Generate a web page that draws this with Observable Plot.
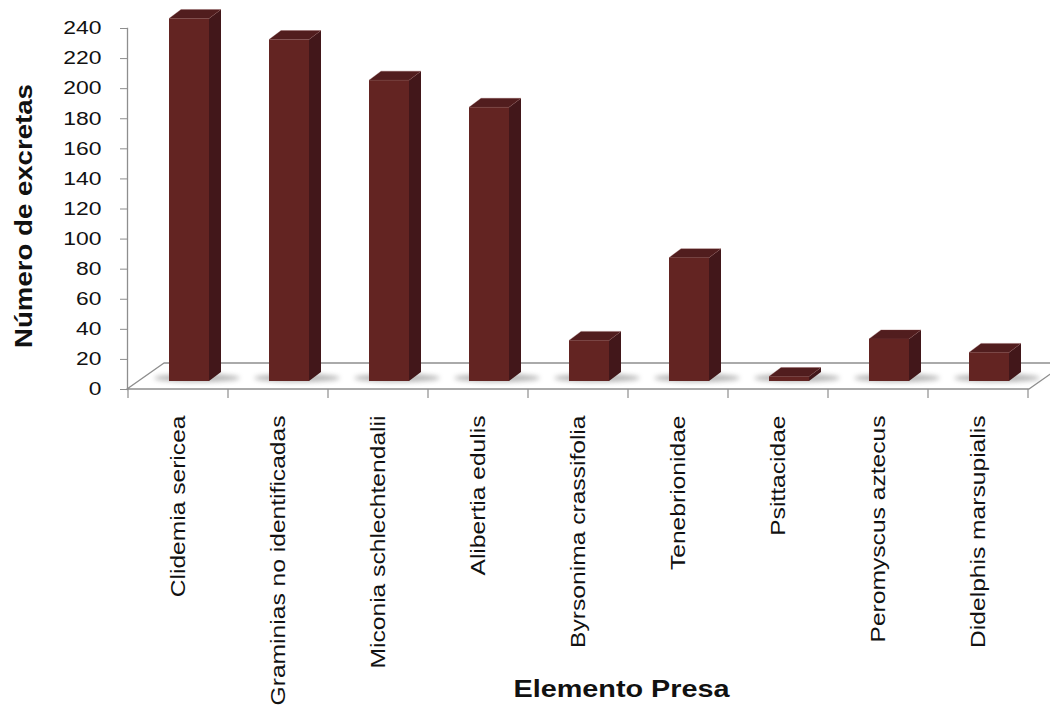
<!DOCTYPE html>
<html>
<head>
<meta charset="utf-8">
<script src="https://cdn.jsdelivr.net/npm/d3@7"></script>
<script src="https://cdn.jsdelivr.net/npm/@observablehq/plot@0.6"></script>
<style>
  html, body { margin: 0; padding: 0; background: #fff; overflow: hidden; }
</style>
</head>
<body>
<div id="chart"></div>
<script>
// Prey items found in the droppings and how many droppings contained each one
const categories = [
  "Clidemia sericea",
  "Graminias no identificadas",
  "Miconia schlechtendalii",
  "Alibertia edulis",
  "Byrsonima crassifolia",
  "Tenebrionidae",
  "Psittacidae",
  "Peromyscus aztecus",
  "Didelphis marsupialis"
];
const excretas = [241, 227, 200, 182, 27, 82, 3, 28, 19];
const yTicks = [0, 20, 40, 60, 80, 100, 120, 140, 160, 180, 200, 220, 240];

const rows = categories.map((name, i) => ({name, value: excretas[i]}));

const FONT = "'Liberation Sans', Arial, Helvetica, sans-serif";
const AXIS_GREY = "#8e8e8e";
const FRONT = "#632422";
const SIDE = "#42171a";
const TOP = "#511d1e";

// Oblique projection of the 3-D columns (screen pixels)
const floorDepth = [37, -26];   // depth of the floor plate
const barShift = [11, -8];      // where the column sits inside that depth
const barDepth = [12, -9];      // thickness of a column

function columns3d(index, scales, values, dim) {
  const {x, y} = scales;
  const bw = typeof x.bandwidth === "function" ? x.bandwidth() : x.bandwidth;
  const g = d3.create("svg:g").attr("aria-label", "columns 3d");

  const defs = g.append("defs");
  defs.append("filter")
      .attr("id", "floor-shadow")
      .attr("x", "-50%").attr("width", "200%")
      .attr("y", "-300%").attr("height", "700%")
    .append("feGaussianBlur").attr("stdDeviation", 2.6);

  const x0 = dim.marginLeft;
  const x1 = dim.width - dim.marginRight;
  const y0 = y(0);
  const [fdx, fdy] = floorDepth;

  // floor plate
  g.append("path")
      .attr("d", `M${x0},${y0}L${x1},${y0}L${x1 + fdx},${y0 + fdy}L${x0 + fdx},${y0 + fdy}Z`)
      .attr("fill", "white")
      .attr("stroke", AXIS_GREY)
      .attr("stroke-width", 1.4)
      .attr("stroke-linejoin", "round");

  // category separators below the floor edge
  const bounds = categories.map(c => x(c)).concat([x(categories[categories.length - 1]) + bw]);
  g.append("g")
    .selectAll("line")
    .data(bounds)
    .join("line")
      .attr("x1", d => d).attr("x2", d => d)
      .attr("y1", y0).attr("y2", y0 + 9)
      .attr("stroke", AXIS_GREY)
      .attr("stroke-width", 1.2);

  const [sx, sy] = barShift;
  const [ddx, ddy] = barDepth;
  const geo = Array.from(index, i => {
    const d = rows[i];
    const w = bw * 0.4;
    const xl = x(d.name) + bw / 2 - w / 2 + sx;
    return {xl, xr: xl + w, yb: y0 + sy, yt: y(d.value) + sy};
  });

  // soft shadows on the floor
  g.append("g")
    .selectAll("ellipse")
    .data(geo)
    .join("ellipse")
      .attr("cx", d => (d.xl + d.xr) / 2 + 8)
      .attr("cy", d => d.yb - 3)
      .attr("rx", 43)
      .attr("ry", 4)
      .attr("fill", "#7c7c7c")
      .attr("opacity", 0.55)
      .attr("filter", "url(#floor-shadow)");

  const bars = g.append("g").selectAll("g").data(geo).join("g");
  // right side
  bars.append("path")
      .attr("d", d => `M${d.xr},${d.yb}L${d.xr + ddx},${d.yb + ddy}L${d.xr + ddx},${d.yt + ddy}L${d.xr},${d.yt}Z`)
      .attr("fill", SIDE);
  // top
  bars.append("path")
      .attr("d", d => `M${d.xl},${d.yt}L${d.xl + ddx},${d.yt + ddy}L${d.xr + ddx},${d.yt + ddy}L${d.xr},${d.yt}Z`)
      .attr("fill", TOP)
      .attr("stroke", "#8a4e4c")
      .attr("stroke-width", 0.5)
      .attr("stroke-opacity", 0.6);
  // front
  bars.append("rect")
      .attr("x", d => d.xl)
      .attr("y", d => d.yt)
      .attr("width", d => d.xr - d.xl)
      .attr("height", d => d.yb - d.yt)
      .attr("fill", FRONT);

  return g.node();
}

const chart = Plot.plot({
  width: 1050,
  height: 711,
  marginLeft: 127,
  marginRight: 21,
  marginTop: 28,
  marginBottom: 322,
  x: {type: "band", domain: categories, padding: 0},
  y: {domain: [0, 240]},
  style: {fontFamily: FONT, background: "white", overflow: "hidden", color: "black"},
  marks: [
    Plot.barY(rows, {x: "name", y: "value", render: columns3d}),
    Plot.frame({anchor: "left", stroke: AXIS_GREY, strokeWidth: 1.3}),
    Plot.axisY({
      ticks: yTicks, tickSize: 7, tickPadding: 19,
      stroke: AXIS_GREY, fill: "#111", fontSize: 18, label: null
    }),
    Plot.axisX({
      tickSize: 0, tickPadding: 26, tickRotate: -90,
      fill: "#111", fontSize: 20, label: null
    }),
    Plot.text(["Número de excretas"], {
      frameAnchor: "left", rotate: -90, dx: -103, dy: 7,
      textAnchor: "middle", lineAnchor: "middle",
      fontSize: 23, fontWeight: "bold", fill: "#111"
    }),
    Plot.text(["Elemento Presa"], {
      frameAnchor: "bottom", dx: 43, dy: 300,
      textAnchor: "middle", lineAnchor: "middle",
      fontSize: 24, fontWeight: "bold", fill: "#111"
    })
  ]
});

document.getElementById("chart").append(chart);

// widen the lettering a little, as in the original chart
function stretch(selector, k) {
  chart.querySelectorAll(selector).forEach(t => {
    const len = t.getComputedTextLength();
    t.setAttribute("textLength", (len * k).toFixed(1));
    t.setAttribute("lengthAdjust", "spacingAndGlyphs");
  });
}
stretch('g[aria-label="y-axis tick label"] text', 1.27);
stretch('g[aria-label="x-axis tick label"] text', 1.23);
stretch('g[aria-label="text"] text', 1.2);
</script>
</body>
</html>
